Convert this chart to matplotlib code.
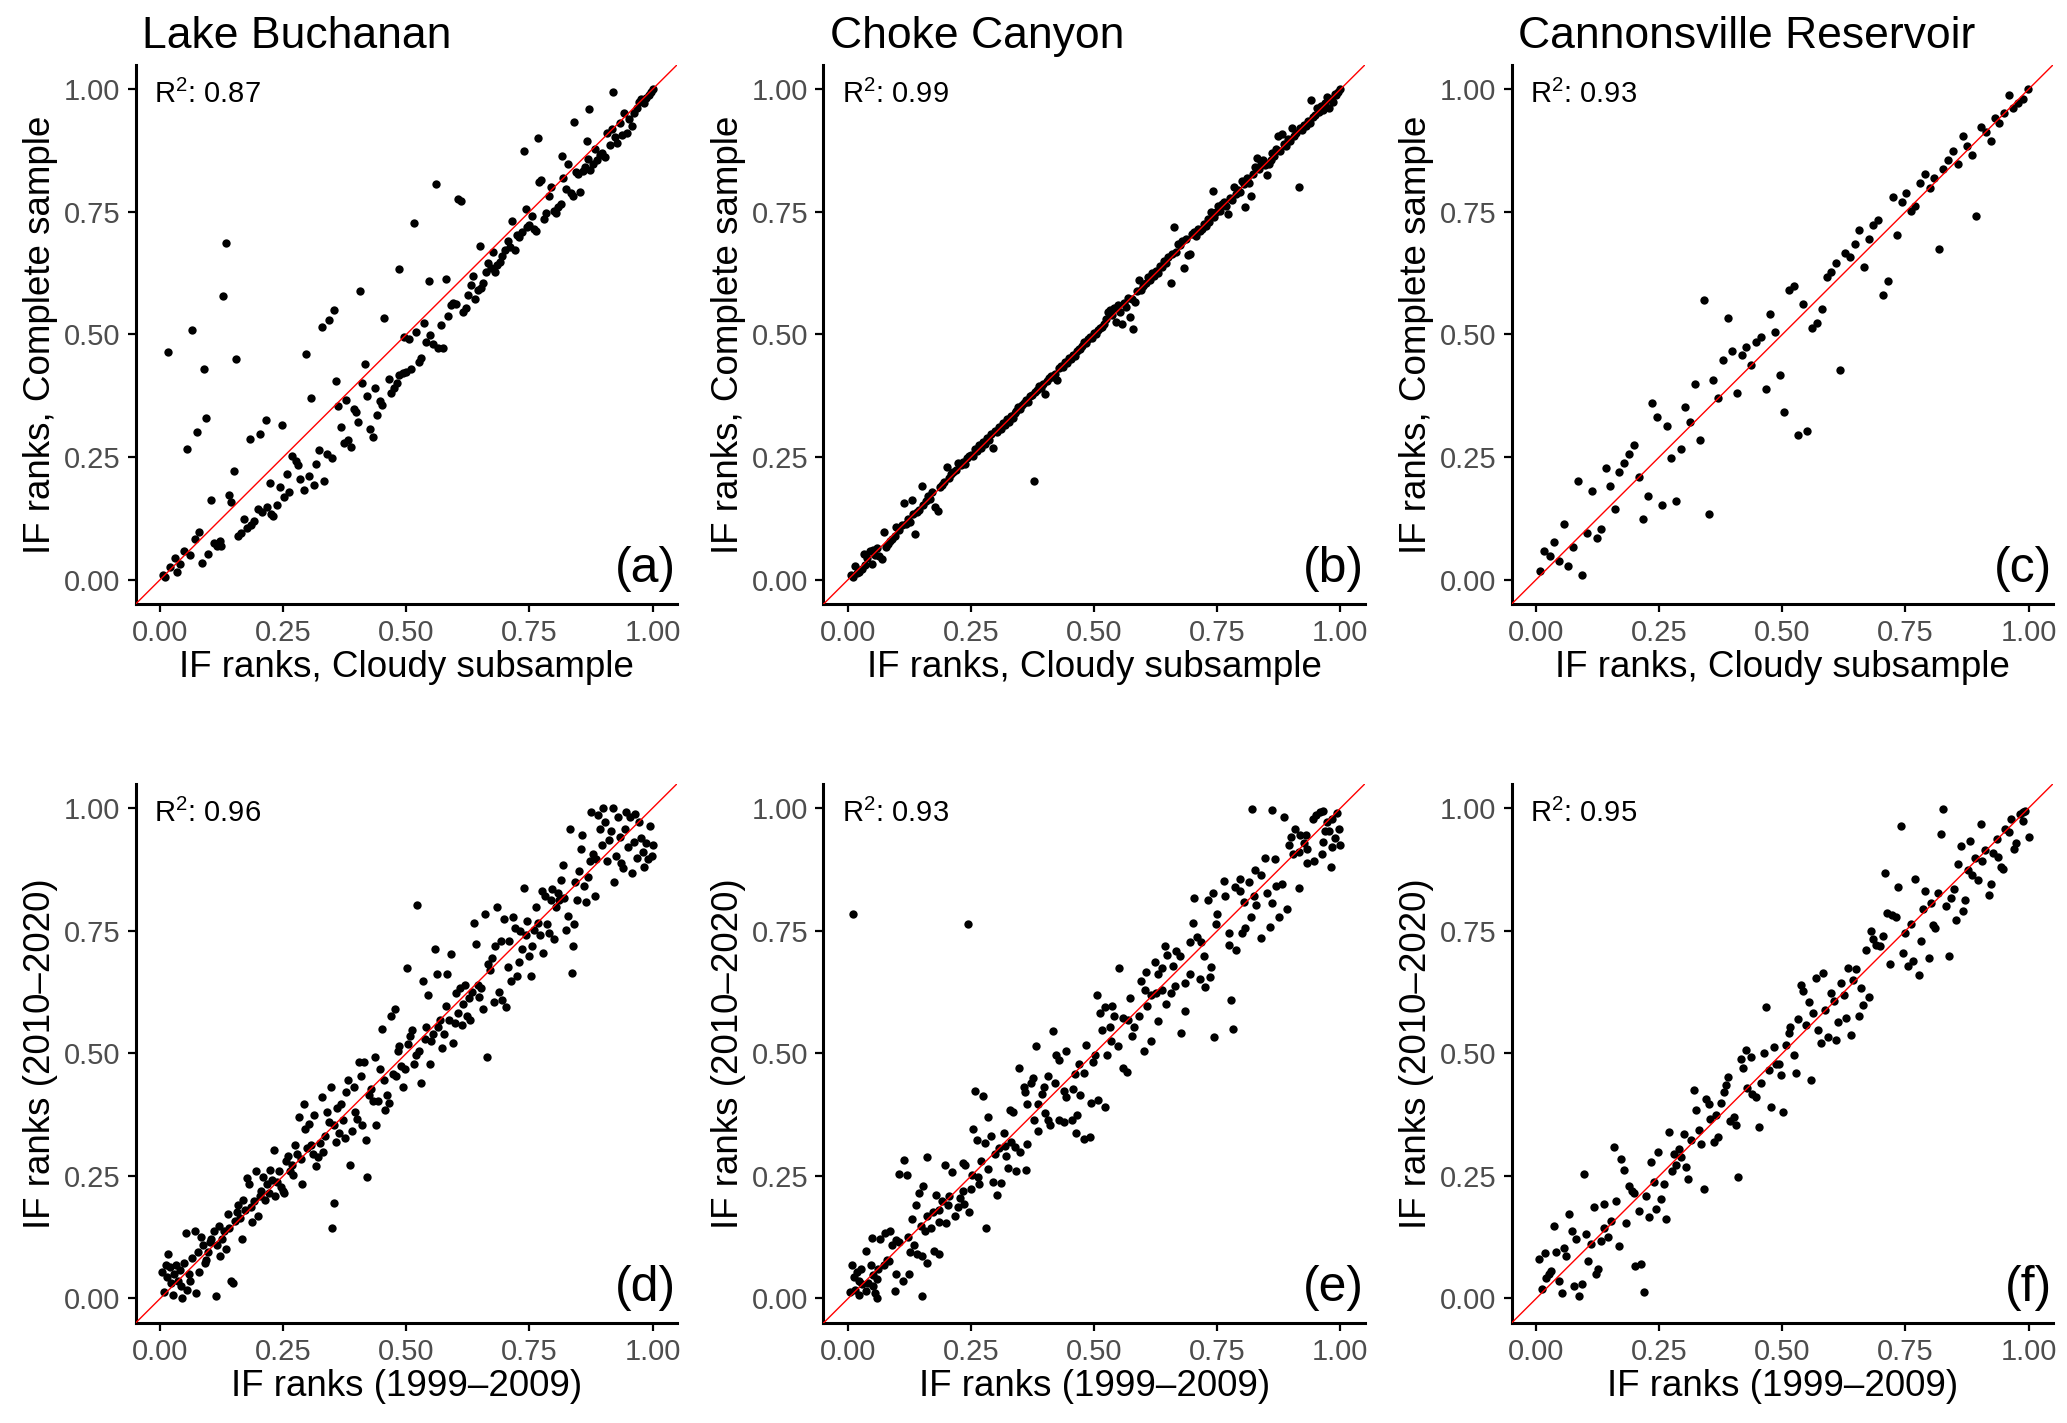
import matplotlib
matplotlib.use('Agg')
import matplotlib.pyplot as plt

plt.rcParams['font.family'] = ['Liberation Sans', 'DejaVu Sans']
plt.rcParams['mathtext.fontset'] = 'custom'
plt.rcParams['mathtext.rm'] = 'Liberation Sans'
plt.rcParams['mathtext.it'] = 'Liberation Sans'

# ---------------- data ----------------
titles = ['Lake Buchanan', 'Choke Canyon', 'Cannonsville Reservoir']
r2_values = ['0.87', '0.99', '0.93', '0.96', '0.93', '0.95']
panel_letters = ['(a)', '(b)', '(c)', '(d)', '(e)', '(f)']
xlabel_top = 'IF ranks, Cloudy subsample'
ylabel_top = 'IF ranks, Complete sample'
xlabel_bottom = 'IF ranks (1999\u20132009)'
ylabel_bottom = 'IF ranks (2010\u20132020)'
tick_values = [0.0, 0.25, 0.5, 0.75, 1.0]
tick_labels = ['0.00', '0.25', '0.50', '0.75', '1.00']

points_a = [
    (0.016, 0.464), (0.064, 0.509), (0.089, 0.43), (0.094, 0.33), (0.074, 0.30), (0.054, 0.266),
    (0.134, 0.687), (0.128, 0.578), (0.153, 0.449), (0.149, 0.222), (0.139, 0.172), (0.144, 0.158),
    (0.104, 0.163), (0.183, 0.287), (0.203, 0.296), (0.214, 0.325), (0.248, 0.316), (0.297, 0.46),
    (0.307, 0.37), (0.328, 0.515), (0.342, 0.529), (0.352, 0.549), (0.357, 0.405), (0.406, 0.588),
    (0.416, 0.44), (0.455, 0.534), (0.485, 0.633), (0.515, 0.727), (0.545, 0.608), (0.56, 0.806),
    (0.58, 0.612), (0.605, 0.776), (0.61, 0.772), (0.649, 0.681), (0.714, 0.731), (0.738, 0.875),
    (0.767, 0.90), (0.817, 0.864), (0.841, 0.934), (0.871, 0.959), (0.92, 0.994), (0.742, 0.756),
    (0.867, 0.895),
    (0.005, 0.009), (0.01, 0.005), (0.019, 0.025), (0.03, 0.044), (0.035, 0.016), (0.041, 0.032),
    (0.049, 0.058), (0.06, 0.05), (0.07, 0.082), (0.079, 0.098), (0.084, 0.034), (0.098, 0.053),
    (0.11, 0.075), (0.116, 0.069), (0.121, 0.078), (0.124, 0.069), (0.159, 0.089), (0.164, 0.094),
    (0.17, 0.124), (0.176, 0.105), (0.184, 0.112), (0.191, 0.119), (0.198, 0.144), (0.206, 0.137),
    (0.216, 0.147), (0.223, 0.197), (0.226, 0.133), (0.23, 0.13), (0.238, 0.153), (0.243, 0.188),
    (0.252, 0.168), (0.258, 0.215), (0.262, 0.179), (0.268, 0.252), (0.275, 0.241), (0.279, 0.234),
    (0.283, 0.206), (0.293, 0.183), (0.302, 0.211), (0.312, 0.192), (0.317, 0.236), (0.322, 0.264),
    (0.332, 0.201), (0.338, 0.256), (0.349, 0.247), (0.362, 0.353), (0.367, 0.312), (0.374, 0.279),
    (0.378, 0.366), (0.382, 0.284), (0.388, 0.27), (0.393, 0.348), (0.398, 0.341), (0.402, 0.321),
    (0.41, 0.40), (0.421, 0.375), (0.427, 0.307), (0.432, 0.291), (0.436, 0.391), (0.441, 0.336),
    (0.446, 0.364), (0.451, 0.355), (0.464, 0.409), (0.469, 0.38), (0.474, 0.391), (0.48, 0.40),
    (0.485, 0.417), (0.493, 0.421), (0.50, 0.424), (0.495, 0.495), (0.505, 0.49), (0.51, 0.429),
    (0.52, 0.505), (0.525, 0.444), (0.53, 0.452), (0.535, 0.524), (0.539, 0.485), (0.549, 0.499),
    (0.555, 0.481), (0.564, 0.472), (0.57, 0.52), (0.575, 0.473), (0.584, 0.538), (0.59, 0.559),
    (0.595, 0.565), (0.601, 0.563), (0.615, 0.545), (0.621, 0.554), (0.626, 0.581), (0.631, 0.60),
    (0.636, 0.62), (0.64, 0.572), (0.645, 0.59), (0.651, 0.595), (0.656, 0.604), (0.661, 0.627),
    (0.665, 0.646), (0.671, 0.636), (0.675, 0.668), (0.68, 0.627), (0.685, 0.641), (0.69, 0.647),
    (0.695, 0.659), (0.70, 0.673), (0.706, 0.691), (0.71, 0.678), (0.72, 0.673), (0.725, 0.702),
    (0.729, 0.698), (0.735, 0.708), (0.745, 0.719), (0.75, 0.723), (0.755, 0.742), (0.76, 0.716),
    (0.764, 0.71), (0.77, 0.81), (0.774, 0.815), (0.78, 0.735), (0.784, 0.748), (0.789, 0.783),
    (0.794, 0.801), (0.80, 0.751), (0.804, 0.747), (0.809, 0.76), (0.814, 0.766), (0.819, 0.82),
    (0.824, 0.796), (0.828, 0.847), (0.834, 0.788), (0.838, 0.783), (0.844, 0.831), (0.849, 0.827),
    (0.853, 0.79), (0.859, 0.833), (0.863, 0.841), (0.869, 0.858), (0.873, 0.836), (0.879, 0.847),
    (0.883, 0.879), (0.888, 0.856), (0.894, 0.865), (0.898, 0.869), (0.904, 0.861), (0.908, 0.911),
    (0.913, 0.886), (0.918, 0.918), (0.923, 0.902), (0.928, 0.891), (0.933, 0.931), (0.938, 0.907),
    (0.943, 0.952), (0.948, 0.911), (0.953, 0.94), (0.958, 0.925), (0.963, 0.952), (0.968, 0.962),
    (0.972, 0.973), (0.977, 0.98), (0.983, 0.971), (0.987, 0.983), (0.992, 0.989), (0.996, 0.994),
    (1.0, 1.0),
]

points_b = [
    (0.005, 0.009), (0.010, 0.005), (0.015, 0.027), (0.019, 0.014), (0.023, 0.016), (0.028, 0.021),
    (0.032, 0.052), (0.035, 0.030), (0.039, 0.043), (0.044, 0.058), (0.048, 0.032), (0.051, 0.060),
    (0.055, 0.050), (0.059, 0.064), (0.063, 0.049), (0.068, 0.041), (0.072, 0.098), (0.077, 0.067),
    (0.082, 0.073), (0.086, 0.078), (0.090, 0.082), (0.095, 0.089), (0.098, 0.107), (0.104, 0.101),
    (0.109, 0.112), (0.114, 0.156), (0.118, 0.114), (0.122, 0.124), (0.126, 0.118), (0.129, 0.162),
    (0.131, 0.133), (0.135, 0.093), (0.140, 0.137), (0.144, 0.142), (0.150, 0.190), (0.153, 0.153),
    (0.158, 0.160), (0.162, 0.171), (0.167, 0.165), (0.171, 0.179), (0.176, 0.147), (0.182, 0.139),
    (0.186, 0.188), (0.191, 0.192), (0.195, 0.199), (0.200, 0.229), (0.205, 0.208), (0.210, 0.215),
    (0.214, 0.220), (0.219, 0.224), (0.224, 0.238), (0.230, 0.234), (0.234, 0.240), (0.238, 0.236),
    (0.242, 0.247), (0.246, 0.252), (0.250, 0.255), (0.254, 0.251), (0.258, 0.266), (0.262, 0.262),
    (0.266, 0.274), (0.270, 0.268), (0.274, 0.280), (0.278, 0.277), (0.282, 0.289), (0.286, 0.284),
    (0.290, 0.296), (0.295, 0.268), (0.298, 0.302), (0.302, 0.300), (0.306, 0.311), (0.310, 0.307),
    (0.314, 0.320), (0.318, 0.316), (0.322, 0.328), (0.326, 0.322), (0.330, 0.333), (0.334, 0.330),
    (0.338, 0.340), (0.342, 0.344), (0.346, 0.352), (0.350, 0.347), (0.354, 0.356), (0.358, 0.360),
    (0.362, 0.366), (0.366, 0.362), (0.370, 0.374), (0.374, 0.377), (0.378, 0.201), (0.380, 0.383),
    (0.384, 0.386), (0.388, 0.395), (0.392, 0.390), (0.396, 0.398), (0.400, 0.378), (0.404, 0.405),
    (0.408, 0.412), (0.412, 0.415), (0.416, 0.414), (0.420, 0.420), (0.424, 0.407), (0.428, 0.431),
    (0.432, 0.435), (0.436, 0.433), (0.440, 0.444), (0.444, 0.441), (0.448, 0.452), (0.452, 0.449),
    (0.456, 0.459), (0.460, 0.456), (0.464, 0.466), (0.468, 0.470), (0.472, 0.471), (0.476, 0.477),
    (0.480, 0.484), (0.484, 0.482), (0.488, 0.490), (0.492, 0.494), (0.496, 0.492), (0.500, 0.503),
    (0.504, 0.500), (0.508, 0.510), (0.512, 0.514), (0.516, 0.515), (0.520, 0.522), (0.524, 0.531),
    (0.528, 0.545), (0.532, 0.550), (0.536, 0.540), (0.540, 0.553), (0.544, 0.525), (0.548, 0.560),
    (0.552, 0.546), (0.556, 0.522), (0.560, 0.565), (0.564, 0.555), (0.568, 0.575), (0.572, 0.536),
    (0.576, 0.573), (0.579, 0.511), (0.582, 0.566), (0.586, 0.589), (0.590, 0.611), (0.594, 0.590),
    (0.598, 0.598), (0.602, 0.602), (0.606, 0.604), (0.610, 0.617), (0.614, 0.611), (0.618, 0.625),
    (0.622, 0.620), (0.626, 0.630), (0.630, 0.626), (0.634, 0.640), (0.638, 0.637), (0.642, 0.649),
    (0.646, 0.646), (0.650, 0.657), (0.656, 0.604), (0.658, 0.664), (0.662, 0.719), (0.666, 0.668),
    (0.670, 0.685), (0.674, 0.682), (0.678, 0.690), (0.683, 0.636), (0.686, 0.694), (0.690, 0.662),
    (0.694, 0.664), (0.698, 0.705), (0.702, 0.708), (0.706, 0.700), (0.710, 0.716), (0.714, 0.711),
    (0.718, 0.715), (0.722, 0.726), (0.726, 0.722), (0.730, 0.735), (0.734, 0.730), (0.738, 0.750),
    (0.741, 0.792), (0.744, 0.740), (0.748, 0.750), (0.752, 0.761), (0.756, 0.752), (0.760, 0.766),
    (0.764, 0.770), (0.768, 0.762), (0.772, 0.745), (0.776, 0.778), (0.780, 0.774), (0.784, 0.800),
    (0.788, 0.786), (0.792, 0.795), (0.796, 0.790), (0.800, 0.812), (0.804, 0.806), (0.806, 0.760),
    (0.810, 0.820), (0.814, 0.808), (0.818, 0.782), (0.822, 0.827), (0.826, 0.841), (0.830, 0.860),
    (0.834, 0.838), (0.838, 0.852), (0.842, 0.856), (0.846, 0.845), (0.850, 0.825), (0.854, 0.848),
    (0.858, 0.855), (0.862, 0.870), (0.866, 0.864), (0.870, 0.878), (0.874, 0.905), (0.878, 0.875),
    (0.882, 0.908), (0.886, 0.888), (0.890, 0.884), (0.894, 0.898), (0.898, 0.894), (0.902, 0.922),
    (0.906, 0.904), (0.910, 0.910), (0.915, 0.801), (0.918, 0.920), (0.922, 0.916), (0.926, 0.928),
    (0.930, 0.925), (0.934, 0.936), (0.938, 0.932), (0.941, 0.978), (0.944, 0.944), (0.948, 0.948),
    (0.952, 0.962), (0.956, 0.953), (0.960, 0.966), (0.964, 0.958), (0.968, 0.972), (0.972, 0.985),
    (0.976, 0.961), (0.980, 0.980), (0.984, 0.975), (0.988, 0.990), (0.992, 0.988), (0.996, 0.994),
    (1.000, 1.000),
]

points_c = [
    (0.007, 0.018), (0.016, 0.058), (0.027, 0.049), (0.037, 0.076), (0.046, 0.038), (0.056, 0.114),
    (0.065, 0.027), (0.075, 0.067), (0.084, 0.20), (0.094, 0.009), (0.103, 0.095), (0.113, 0.181),
    (0.123, 0.085), (0.132, 0.104), (0.141, 0.228), (0.15, 0.19), (0.16, 0.143), (0.169, 0.219),
    (0.179, 0.237), (0.188, 0.256), (0.198, 0.275), (0.208, 0.21), (0.217, 0.124), (0.227, 0.171),
    (0.236, 0.361), (0.246, 0.332), (0.255, 0.152), (0.265, 0.313), (0.274, 0.247), (0.284, 0.161),
    (0.294, 0.266), (0.303, 0.351), (0.313, 0.322), (0.322, 0.399), (0.332, 0.285), (0.341, 0.571),
    (0.35, 0.133), (0.36, 0.408), (0.369, 0.37), (0.379, 0.447), (0.389, 0.533), (0.398, 0.466),
    (0.408, 0.38), (0.418, 0.457), (0.427, 0.475), (0.437, 0.438), (0.447, 0.485), (0.456, 0.495),
    (0.466, 0.389), (0.475, 0.542), (0.485, 0.505), (0.495, 0.418), (0.504, 0.342), (0.514, 0.59),
    (0.523, 0.599), (0.532, 0.295), (0.542, 0.561), (0.551, 0.304), (0.561, 0.514), (0.571, 0.523),
    (0.58, 0.551), (0.59, 0.618), (0.599, 0.627), (0.609, 0.646), (0.618, 0.428), (0.628, 0.666),
    (0.637, 0.657), (0.647, 0.685), (0.656, 0.713), (0.666, 0.637), (0.676, 0.694), (0.685, 0.723),
    (0.695, 0.733), (0.704, 0.58), (0.714, 0.609), (0.724, 0.78), (0.732, 0.703), (0.742, 0.771),
    (0.751, 0.789), (0.761, 0.752), (0.77, 0.761), (0.78, 0.809), (0.789, 0.828), (0.799, 0.799),
    (0.808, 0.818), (0.818, 0.675), (0.827, 0.837), (0.837, 0.856), (0.847, 0.875), (0.856, 0.847),
    (0.866, 0.904), (0.875, 0.885), (0.885, 0.865), (0.894, 0.742), (0.904, 0.923), (0.913, 0.913),
    (0.923, 0.895), (0.932, 0.942), (0.941, 0.932), (0.95, 0.951), (0.96, 0.989), (0.969, 0.961),
    (0.979, 0.971), (0.988, 0.98), (0.998, 1.0),
]

points_d = [
    (0.004, 0.054), (0.007, 0.014), (0.011, 0.068), (0.014, 0.043), (0.016, 0.09), (0.02, 0.065),
    (0.022, 0.032), (0.025, 0.007), (0.027, 0.05), (0.032, 0.068), (0.036, 0.036), (0.04, 0.058),
    (0.043, 0.025), (0.045, 0.0), (0.049, 0.072), (0.052, 0.133), (0.054, 0.018), (0.058, 0.05),
    (0.061, 0.036), (0.065, 0.083), (0.071, 0.137), (0.072, 0.011), (0.076, 0.094), (0.079, 0.054),
    (0.083, 0.126), (0.086, 0.108), (0.09, 0.072), (0.094, 0.079), (0.097, 0.094), (0.101, 0.115),
    (0.104, 0.122), (0.11, 0.137), (0.114, 0.004), (0.115, 0.108), (0.119, 0.147), (0.122, 0.086),
    (0.126, 0.122), (0.13, 0.137), (0.133, 0.101), (0.137, 0.173), (0.14, 0.144), (0.144, 0.036),
    (0.148, 0.032), (0.151, 0.158), (0.155, 0.176), (0.159, 0.191), (0.162, 0.165), (0.166, 0.122),
    (0.169, 0.201), (0.173, 0.18), (0.177, 0.245), (0.18, 0.234), (0.184, 0.187), (0.187, 0.155),
    (0.191, 0.198), (0.195, 0.259), (0.198, 0.169), (0.202, 0.209), (0.205, 0.219), (0.209, 0.248),
    (0.213, 0.201), (0.216, 0.234), (0.22, 0.216), (0.223, 0.263), (0.227, 0.241), (0.231, 0.302),
    (0.234, 0.209), (0.238, 0.237), (0.241, 0.259), (0.245, 0.227), (0.249, 0.219), (0.252, 0.216),
    (0.256, 0.281), (0.259, 0.291), (0.263, 0.259), (0.267, 0.273), (0.27, 0.252), (0.274, 0.313),
    (0.277, 0.295), (0.281, 0.37), (0.285, 0.284), (0.288, 0.234), (0.292, 0.396), (0.295, 0.345),
    (0.299, 0.306), (0.303, 0.356), (0.306, 0.313), (0.31, 0.295), (0.313, 0.374), (0.317, 0.27),
    (0.321, 0.288), (0.324, 0.317), (0.328, 0.41), (0.331, 0.299), (0.335, 0.331), (0.339, 0.381),
    (0.342, 0.36), (0.346, 0.432), (0.349, 0.144), (0.352, 0.194), (0.353, 0.353), (0.357, 0.32),
    (0.36, 0.388), (0.364, 0.338), (0.367, 0.396), (0.371, 0.363), (0.375, 0.327), (0.378, 0.421),
    (0.382, 0.446), (0.385, 0.273), (0.389, 0.342), (0.393, 0.432), (0.396, 0.381), (0.4, 0.367),
    (0.403, 0.482), (0.407, 0.453), (0.41, 0.353), (0.414, 0.482), (0.418, 0.324), (0.421, 0.248),
    (0.425, 0.414), (0.428, 0.428), (0.432, 0.403), (0.436, 0.493), (0.439, 0.353), (0.443, 0.403),
    (0.447, 0.468), (0.45, 0.55), (0.454, 0.446), (0.457, 0.385), (0.461, 0.414), (0.465, 0.399),
    (0.468, 0.576), (0.472, 0.457), (0.476, 0.59), (0.479, 0.453), (0.483, 0.504), (0.486, 0.514),
    (0.49, 0.475), (0.493, 0.432), (0.497, 0.468), (0.501, 0.673), (0.504, 0.518), (0.508, 0.536),
    (0.511, 0.547), (0.515, 0.478), (0.519, 0.496), (0.522, 0.802), (0.526, 0.504), (0.529, 0.439),
    (0.533, 0.647), (0.537, 0.529), (0.54, 0.554), (0.544, 0.619), (0.548, 0.478), (0.551, 0.525),
    (0.555, 0.54), (0.558, 0.712), (0.562, 0.662), (0.565, 0.554), (0.569, 0.568), (0.573, 0.511),
    (0.576, 0.54), (0.58, 0.597), (0.583, 0.662), (0.587, 0.568), (0.591, 0.703), (0.594, 0.522),
    (0.598, 0.561), (0.601, 0.622), (0.605, 0.583), (0.609, 0.633), (0.612, 0.558), (0.616, 0.601),
    (0.619, 0.64), (0.623, 0.576), (0.627, 0.612), (0.63, 0.568), (0.634, 0.626), (0.637, 0.766),
    (0.641, 0.723), (0.645, 0.64), (0.648, 0.615), (0.652, 0.633), (0.656, 0.59), (0.659, 0.784),
    (0.663, 0.493), (0.666, 0.683), (0.67, 0.669), (0.674, 0.694), (0.677, 0.604), (0.681, 0.719),
    (0.684, 0.799), (0.688, 0.626), (0.692, 0.73), (0.695, 0.608), (0.699, 0.773), (0.702, 0.594),
    (0.706, 0.676), (0.709, 0.73), (0.713, 0.647), (0.717, 0.777), (0.72, 0.755), (0.724, 0.658),
    (0.728, 0.687), (0.731, 0.75), (0.735, 0.712), (0.738, 0.838), (0.742, 0.741), (0.746, 0.77),
    (0.749, 0.698), (0.753, 0.658), (0.756, 0.719), (0.76, 0.752), (0.764, 0.799), (0.767, 0.766),
    (0.771, 0.741), (0.775, 0.831), (0.778, 0.705), (0.782, 0.82), (0.785, 0.763), (0.789, 0.745),
    (0.793, 0.813), (0.796, 0.835), (0.8, 0.734), (0.803, 0.799), (0.807, 0.827), (0.81, 0.813),
    (0.814, 0.853), (0.818, 0.885), (0.821, 0.817), (0.825, 0.752), (0.829, 0.781), (0.832, 0.957),
    (0.836, 0.663), (0.838, 0.719), (0.841, 0.763), (0.843, 0.849), (0.847, 0.813), (0.85, 0.871),
    (0.854, 0.917), (0.857, 0.946), (0.861, 0.842), (0.865, 0.809), (0.868, 0.86), (0.872, 0.892),
    (0.875, 0.993), (0.879, 0.906), (0.883, 0.82), (0.886, 0.896), (0.89, 0.986), (0.893, 0.957),
    (0.897, 0.924), (0.9, 1.0), (0.904, 0.971), (0.908, 0.892), (0.911, 0.935), (0.915, 0.953),
    (0.919, 1.0), (0.922, 0.849), (0.925, 0.903), (0.929, 0.982), (0.933, 0.942), (0.936, 0.888),
    (0.94, 0.878), (0.944, 0.957), (0.947, 0.993), (0.951, 0.921), (0.954, 0.982), (0.958, 0.867),
    (0.962, 0.932), (0.965, 0.989), (0.969, 0.899), (0.972, 0.971), (0.976, 0.939), (0.98, 0.91),
    (0.983, 0.881), (0.987, 0.928), (0.99, 0.896), (0.994, 0.964), (0.998, 0.903), (1.0, 0.924),
]

points_e = [
    (0.009, 0.784), (0.243, 0.764),
    (0.821, 0.999), (0.86, 0.996), (0.885, 0.981), (0.847, 0.899), (0.868, 0.897), (0.826, 0.874),
    (0.839, 0.863), (0.764, 0.852), (0.795, 0.855), (0.785, 0.84), (0.814, 0.849), (0.702, 0.817),
    (0.731, 0.813), (0.741, 0.827), (0.765, 0.82), (0.796, 0.831), (0.805, 0.809), (0.825, 0.82),
    (0.85, 0.827), (0.861, 0.806), (0.87, 0.842), (0.881, 0.845), (0.891, 0.794), (0.915, 0.837),
    (0.895, 0.925), (0.90, 0.942), (0.907, 0.958), (0.918, 0.946), (0.926, 0.928), (0.933, 0.917),
    (0.944, 0.978), (0.951, 0.986), (0.958, 0.993), (0.965, 0.994), (0.972, 0.971), (0.977, 0.953),
    (0.983, 0.978), (0.989, 0.939), (0.994, 0.991), (0.998, 0.957), (0.999, 0.924), (0.98, 0.88),
    (0.962, 0.906), (0.947, 0.892), (0.933, 0.888), (0.915, 0.91), (0.904, 0.906), (0.931, 0.946),
    (0.965, 0.932), (0.983, 0.921), (0.969, 0.953),
    (0.70, 0.766), (0.708, 0.737), (0.749, 0.784), (0.747, 0.763), (0.774, 0.745), (0.774, 0.721),
    (0.787, 0.71), (0.80, 0.745), (0.807, 0.755), (0.818, 0.777), (0.828, 0.802), (0.839, 0.735),
    (0.857, 0.757), (0.875, 0.777), (0.695, 0.728), (0.717, 0.728), (0.722, 0.699), (0.738, 0.676),
    (0.735, 0.655), (0.724, 0.635), (0.715, 0.651), (0.695, 0.662), (0.684, 0.644), (0.674, 0.698),
    (0.666, 0.709), (0.659, 0.678), (0.643, 0.718), (0.648, 0.701), (0.637, 0.673), (0.63, 0.662),
    (0.623, 0.687), (0.605, 0.665), (0.594, 0.647), (0.603, 0.629), (0.616, 0.619), (0.626, 0.622),
    (0.637, 0.629), (0.655, 0.622), (0.663, 0.637), (0.645, 0.601), (0.608, 0.597), (0.59, 0.576),
    (0.572, 0.612), (0.55, 0.673), (0.558, 0.572), (0.58, 0.554), (0.63, 0.565), (0.684, 0.586),
    (0.677, 0.542), (0.743, 0.534), (0.782, 0.55), (0.778, 0.608), (0.616, 0.525), (0.60, 0.505),
    (0.576, 0.536), (0.569, 0.568), (0.548, 0.514), (0.533, 0.525), (0.526, 0.496), (0.54, 0.576),
    (0.536, 0.597), (0.522, 0.594), (0.511, 0.583), (0.506, 0.619), (0.515, 0.548), (0.531, 0.554),
    (0.558, 0.471), (0.567, 0.462), (0.501, 0.496), (0.497, 0.482), (0.483, 0.517), (0.479, 0.46),
    (0.468, 0.478), (0.461, 0.457), (0.456, 0.428), (0.443, 0.504), (0.429, 0.486), (0.422, 0.496),
    (0.416, 0.545), (0.407, 0.453), (0.42, 0.439), (0.398, 0.432), (0.382, 0.514), (0.375, 0.45),
    (0.371, 0.439), (0.36, 0.421), (0.348, 0.471), (0.357, 0.432), (0.393, 0.417), (0.386, 0.396),
    (0.443, 0.41), (0.439, 0.424), (0.472, 0.414), (0.493, 0.399), (0.508, 0.404), (0.521, 0.39),
    (0.465, 0.374), (0.454, 0.363), (0.439, 0.36), (0.429, 0.363), (0.411, 0.353), (0.40, 0.378),
    (0.407, 0.363), (0.385, 0.342), (0.377, 0.363), (0.364, 0.396), (0.335, 0.381), (0.328, 0.385),
    (0.285, 0.37), (0.275, 0.412), (0.257, 0.424), (0.254, 0.345), (0.261, 0.324), (0.279, 0.317),
    (0.29, 0.332), (0.317, 0.338), (0.318, 0.311), (0.331, 0.32), (0.338, 0.309), (0.349, 0.299),
    (0.364, 0.315), (0.306, 0.306), (0.299, 0.294), (0.32, 0.291), (0.324, 0.266), (0.342, 0.259),
    (0.362, 0.263), (0.463, 0.338), (0.479, 0.325), (0.492, 0.33), (0.27, 0.281), (0.285, 0.265),
    (0.263, 0.248), (0.252, 0.252), (0.234, 0.277), (0.238, 0.272), (0.212, 0.258), (0.197, 0.273),
    (0.161, 0.289), (0.113, 0.283), (0.104, 0.254), (0.119, 0.252), (0.295, 0.237), (0.31, 0.236),
    (0.303, 0.212), (0.266, 0.234), (0.25, 0.223), (0.233, 0.219), (0.227, 0.205), (0.245, 0.176),
    (0.236, 0.193), (0.223, 0.187), (0.218, 0.169), (0.205, 0.209), (0.202, 0.191), (0.191, 0.198),
    (0.179, 0.212), (0.184, 0.18), (0.172, 0.176), (0.16, 0.169), (0.153, 0.23), (0.144, 0.216),
    (0.137, 0.191), (0.13, 0.162), (0.148, 0.147), (0.156, 0.137), (0.169, 0.144), (0.184, 0.155),
    (0.198, 0.153), (0.281, 0.144), (0.121, 0.126), (0.133, 0.108), (0.126, 0.094), (0.139, 0.09),
    (0.15, 0.086), (0.161, 0.072), (0.175, 0.097), (0.184, 0.09), (0.097, 0.119), (0.104, 0.115),
    (0.086, 0.137), (0.074, 0.133), (0.065, 0.122), (0.048, 0.124), (0.09, 0.108), (0.078, 0.079),
    (0.083, 0.076), (0.072, 0.068), (0.061, 0.061), (0.047, 0.068), (0.036, 0.096), (0.027, 0.061),
    (0.018, 0.054), (0.007, 0.068), (0.011, 0.043), (0.022, 0.036), (0.004, 0.014), (0.014, 0.018),
    (0.022, 0.007), (0.029, 0.029), (0.036, 0.016), (0.04, 0.032), (0.05, 0.025), (0.054, 0.011),
    (0.058, 0.001), (0.058, 0.04), (0.05, 0.047), (0.097, 0.05), (0.112, 0.036), (0.124, 0.05),
    (0.096, 0.016), (0.151, 0.005),
]

points_f = [
    (0.826, 0.999), (0.74, 0.963), (0.822, 0.947), (0.903, 0.968), (0.881, 0.933), (0.862, 0.922),
    (0.857, 0.886), (0.709, 0.867), (0.735, 0.84), (0.77, 0.856), (0.79, 0.831), (0.817, 0.826),
    (0.801, 0.806), (0.786, 0.795), (0.842, 0.817), (0.848, 0.836), (0.832, 0.80), (0.87, 0.812),
    (0.867, 0.79), (0.853, 0.771), (0.878, 0.874), (0.885, 0.863), (0.898, 0.853), (0.892, 0.898),
    (0.906, 0.892), (0.912, 0.914), (0.928, 0.908), (0.937, 0.901), (0.944, 0.881), (0.949, 0.876),
    (0.924, 0.845), (0.919, 0.822), (0.935, 0.937), (0.953, 0.958), (0.96, 0.952), (0.964, 0.978),
    (0.975, 0.928), (0.97, 0.917), (0.982, 0.989), (0.989, 0.993), (0.993, 0.995), (0.988, 0.973),
    (1.0, 0.942), (0.712, 0.786), (0.723, 0.783), (0.73, 0.778), (0.761, 0.764), (0.75, 0.745),
    (0.781, 0.729), (0.806, 0.761), (0.811, 0.755), (0.719, 0.683), (0.746, 0.704), (0.766, 0.689),
    (0.755, 0.678), (0.777, 0.66), (0.797, 0.694), (0.838, 0.699), (0.68, 0.75), (0.685, 0.734),
    (0.69, 0.721), (0.698, 0.718), (0.705, 0.74), (0.669, 0.71), (0.633, 0.674), (0.649, 0.671),
    (0.644, 0.649), (0.619, 0.644), (0.66, 0.633), (0.675, 0.614), (0.598, 0.624), (0.625, 0.619),
    (0.604, 0.606), (0.583, 0.663), (0.568, 0.653), (0.538, 0.639), (0.542, 0.628), (0.554, 0.604),
    (0.563, 0.583), (0.587, 0.588), (0.664, 0.599), (0.655, 0.577), (0.629, 0.573), (0.613, 0.563),
    (0.639, 0.537), (0.547, 0.558), (0.572, 0.548), (0.593, 0.534), (0.608, 0.527), (0.578, 0.522),
    (0.466, 0.594), (0.532, 0.569), (0.515, 0.553), (0.513, 0.542), (0.507, 0.517), (0.482, 0.512),
    (0.462, 0.501), (0.426, 0.507), (0.416, 0.488), (0.437, 0.493), (0.421, 0.471), (0.523, 0.496),
    (0.488, 0.478), (0.494, 0.478), (0.473, 0.465), (0.497, 0.455), (0.527, 0.46), (0.558, 0.446),
    (0.457, 0.44), (0.429, 0.43), (0.39, 0.452), (0.385, 0.435), (0.381, 0.421), (0.439, 0.417),
    (0.446, 0.41), (0.32, 0.426), (0.344, 0.406), (0.35, 0.396), (0.376, 0.399), (0.324, 0.385),
    (0.477, 0.39), (0.501, 0.38), (0.365, 0.374), (0.354, 0.365), (0.402, 0.371), (0.394, 0.361),
    (0.406, 0.354), (0.452, 0.35), (0.27, 0.34), (0.30, 0.335), (0.331, 0.344), (0.315, 0.324),
    (0.37, 0.329), (0.361, 0.319), (0.335, 0.314), (0.41, 0.248), (0.34, 0.223), (0.248, 0.299),
    (0.234, 0.278), (0.279, 0.295), (0.29, 0.304), (0.284, 0.273), (0.295, 0.288), (0.304, 0.268),
    (0.309, 0.243), (0.276, 0.259), (0.259, 0.234), (0.239, 0.237), (0.223, 0.209), (0.254, 0.203),
    (0.243, 0.182), (0.229, 0.167), (0.264, 0.162), (0.209, 0.178), (0.194, 0.219), (0.188, 0.229),
    (0.198, 0.216), (0.178, 0.263), (0.173, 0.284), (0.157, 0.309), (0.162, 0.198), (0.138, 0.193),
    (0.117, 0.187), (0.097, 0.253), (0.151, 0.158), (0.137, 0.144), (0.146, 0.126), (0.132, 0.117),
    (0.112, 0.112), (0.101, 0.131), (0.081, 0.121), (0.072, 0.137), (0.066, 0.173), (0.036, 0.147),
    (0.182, 0.153), (0.168, 0.106), (0.056, 0.102), (0.061, 0.086), (0.04, 0.095), (0.017, 0.092),
    (0.006, 0.081), (0.106, 0.076), (0.126, 0.061), (0.122, 0.05), (0.201, 0.066), (0.212, 0.071),
    (0.219, 0.014), (0.03, 0.056), (0.025, 0.05), (0.019, 0.042), (0.047, 0.036), (0.011, 0.02),
    (0.052, 0.011), (0.076, 0.025), (0.092, 0.03), (0.086, 0.005),
]

all_points = [points_a, points_b, points_c, points_d, points_e, points_f]

# ---------------- figure ----------------
fig = plt.figure(figsize=(20.67, 14.23), dpi=100)
lefts = [0.0656, 0.3984, 0.7313]
bottoms = [0.5755, 0.0703]
width, height = 0.262, 0.379

for i, pts in enumerate(all_points):
    r, c = divmod(i, 3)
    ax = fig.add_axes([lefts[c], bottoms[r], width, height])
    xs = [p[0] for p in pts]
    ys = [p[1] for p in pts]
    ax.scatter(xs, ys, s=36, c='black', linewidths=0, zorder=2)
    ax.axline((0, 0), (1, 1), color='#FF0000', lw=1.0, zorder=3)
    ax.set_xlim(-0.05, 1.05)
    ax.set_ylim(-0.05, 1.05)
    ax.set_xticks(tick_values)
    ax.set_xticklabels(tick_labels)
    ax.set_yticks(tick_values)
    ax.set_yticklabels(tick_labels)
    for s in ['top', 'right']:
        ax.spines[s].set_visible(False)
    for s in ['left', 'bottom']:
        ax.spines[s].set_linewidth(2.2)
        ax.spines[s].set_color('black')
    ax.tick_params(axis='both', length=6, width=1.6, color='black',
                   labelsize=21, labelcolor='#4D4D4D', pad=5)
    if r == 0:
        ax.set_xlabel(xlabel_top, fontsize=26.5, labelpad=2)
        ax.set_ylabel(ylabel_top, fontsize=26.5, labelpad=4)
        ax.text(0.012, 1.052, titles[c], transform=ax.transAxes, fontsize=32,
                ha='left', va='center')
    else:
        ax.set_xlabel(xlabel_bottom, fontsize=26.5, labelpad=2)
        ax.set_ylabel(ylabel_bottom, fontsize=26.5, labelpad=4)
    ax.text(-0.012, 0.99, r'R$^2$: ' + r2_values[i], fontsize=21,
            ha='left', va='center', color='black')
    ax.text(0.998, 0.065, panel_letters[i], transform=ax.transAxes, fontsize=36,
            ha='right', va='center')

fig.savefig('out.png', dpi=100, facecolor='white')
